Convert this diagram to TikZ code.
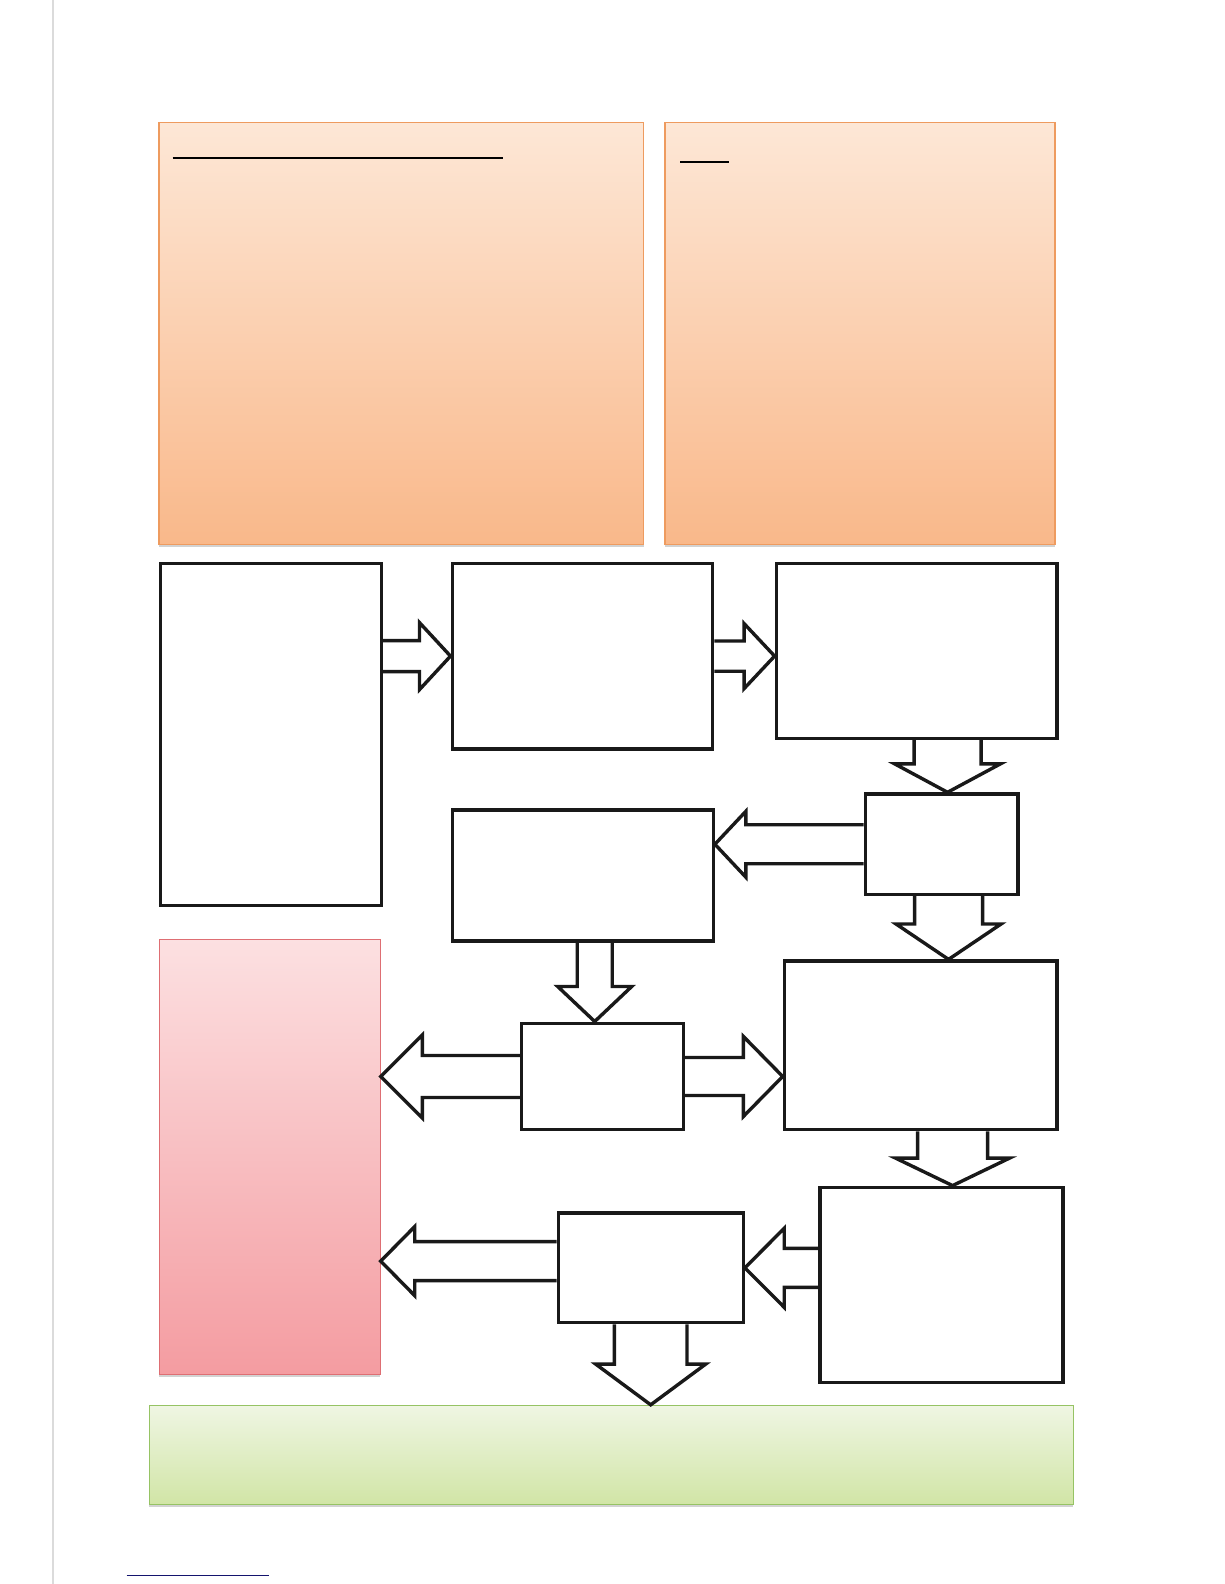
\documentclass[tikz,border=0pt]{standalone}
\usepackage{tikz}
\usetikzlibrary{calc,shadows}
\definecolor{peachtop}{RGB}{253,231,214}
\definecolor{peachbot}{RGB}{249,184,138}
\definecolor{peachline}{RGB}{238,155,95}
\definecolor{rosetop}{RGB}{252,224,225}
\definecolor{rosebot}{RGB}{244,156,161}
\definecolor{roseline}{RGB}{222,110,115}
\definecolor{limetop}{RGB}{239,246,227}
\definecolor{limebot}{RGB}{209,229,166}
\definecolor{limeline}{RGB}{150,195,100}
\definecolor{linknavy}{RGB}{20,20,110}

% hollow block arrow: from, to, shaft half width, head half width, head length
\newcommand{\blockarrow}[5]{%
  \draw[hollowarrow] let \p1=(#1), \p2=(#2),
    \n1={atan2(\y2-\y1,\x2-\x1)}, \n2={veclen(\x2-\x1,\y2-\y1)} in
    [shift={(\p1)},rotate=\n1]
    (0,#3) -- ({\n2-#5},#3) -- ({\n2-#5},#4) -- (\n2,0)
    -- ({\n2-#5},-#4) -- ({\n2-#5},-#3) -- (0,-#3);}

\begin{document}
\begin{tikzpicture}[x=1pt,y=-1pt,
  box/.style={draw=black!90,line width=3.4pt,fill=white,inner sep=0pt,anchor=north west},
  panel/.style={inner sep=0pt,anchor=north west,line width=1.2pt,
    drop shadow={shadow xshift=0pt,shadow yshift=-2.5pt,opacity=0.35}},
  peach/.style={panel,draw=peachline,top color=peachtop,bottom color=peachbot},
  rose/.style={panel,draw=roseline,top color=rosetop,bottom color=rosebot},
  lime/.style={panel,draw=limeline,top color=limetop,bottom color=limebot},
  hollowarrow/.style={draw=black!90,line width=3.4pt,line join=miter}]
  \useasboundingbox (0,0) rectangle (1224,1584);
  \fill[white] (0,0) rectangle (1224,1584);
  % page margin rule and footnote rule
  \draw[gray!28,line width=2pt] (52.7,0) -- (52.7,1584);
  \draw[linknavy,line width=1.2pt] (126.7,1575.3) -- (268.7,1575.3);

  % coloured panels
  \node[peach,minimum width=484.7,minimum height=421.7] (O1) at (158.3,122.3) {};
  \node[peach,minimum width=390,minimum height=421.7] (O2) at (664.3,122.3) {};
  \node[rose,minimum width=221,minimum height=434.3] (P) at (158.5,939.2) {};
  \node[lime,minimum width=924,minimum height=99] (Gr) at (148.5,1404.8) {};
  \draw[black,line width=2pt] (172.7,158) -- (503.3,158);
  \draw[black,line width=2pt] (680,161.7) -- (729,161.7);

  % white boxes
  \node[box,minimum width=221.2,minimum height=342.4] (A) at (158.5,561.5) {};
  \node[box,minimum width=260.5,minimum height=185.8] (B) at (450.5,561.5) {};
  \node[box,minimum width=280.7,minimum height=175.2] (C) at (774.6,561.5) {};
  \node[box,minimum width=152.7,minimum height=100.5] (D) at (863.5,792.3) {};
  \node[box,minimum width=261,minimum height=130.9] (E) at (450.5,808.3) {};
  \node[box,minimum width=161.7,minimum height=106.5] (F) at (520,1021.5) {};
  \node[box,minimum width=272.6,minimum height=168.6] (G) at (782.7,959.4) {};
  \node[box,minimum width=185,minimum height=109.8] (H) at (556.5,1211.2) {};
  \node[box,minimum width=243.1,minimum height=195] (I) at (818.3,1185.6) {};

  % block arrows
  \coordinate (cd) at ($(D.north)+(6,0)$);
  \coordinate (dg) at ($(D.south)+(7,0)$);
  \coordinate (ef) at ($(E.south)+(12,0)$);
  \coordinate (gi) at ($(I.north)+(11,0)$);
  \coordinate (hp) at ($(H.west)+(0,-6.7)$);
  \blockarrow{A.east |- B.west}{B.west}{15.5}{33.5}{31}
  \blockarrow{B.east}{B.east -| C.west}{15.1}{32.5}{30.5}
  \blockarrow{C.south -| cd}{cd}{33.5}{53}{28.5}
  \blockarrow{D.west}{D.west -| E.east}{19.5}{33}{31}
  \blockarrow{dg}{dg |- G.north}{34}{52.5}{35.4}
  \blockarrow{ef}{ef |- F.north}{17.5}{37}{35}
  \blockarrow{F.west}{F.west -| P.east}{21}{41.5}{41.6}
  \blockarrow{F.east}{F.east -| G.west}{19}{40}{39.3}
  \blockarrow{G.south -| gi}{gi}{35}{57}{27.5}
  \blockarrow{I.west |- H.east}{H.east}{19.5}{39.5}{39.3}
  \blockarrow{hp}{hp -| P.east}{19.5}{34.5}{34}
  \blockarrow{H.south}{H.south |- Gr.north}{36.3}{55}{40.7}
\end{tikzpicture}
\end{document}
